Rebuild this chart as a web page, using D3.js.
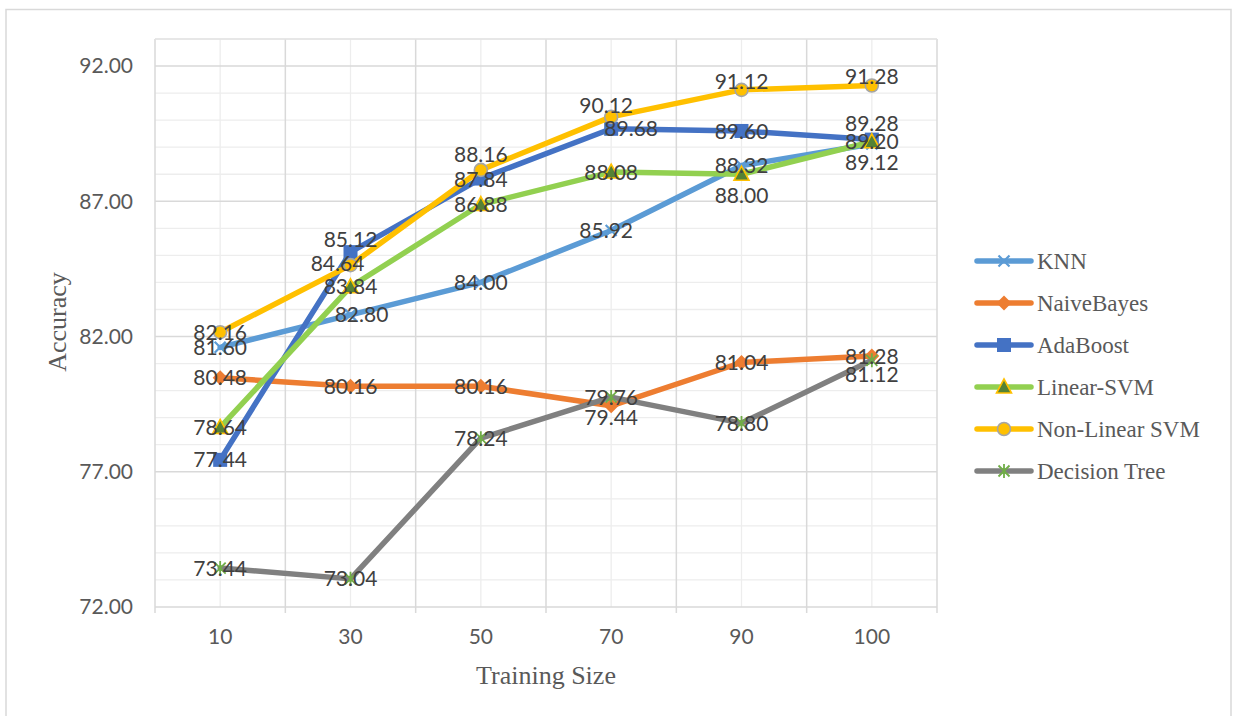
<!DOCTYPE html>
<html>
<head>
<meta charset="utf-8">
<script src="https://cdn.jsdelivr.net/npm/d3@7"></script>
<style>
  html, body { margin: 0; padding: 0; background: #fff; }
  svg { display: block; }
</style>
</head>
<body>
<svg id="chart" width="1233" height="716"></svg>
<script>
// Training sizes on the x axis
const categories = ["10", "30", "50", "70", "90", "100"];

// Accuracy of each classifier per training size
const knn          = [81.60, 82.80, 84.00, 85.92, 88.32, 89.12];
const naiveBayes   = [80.48, 80.16, 80.16, 79.44, 81.04, 81.28];
const adaBoost     = [77.44, 85.12, 87.84, 89.68, 89.60, 89.28];
const linearSvm    = [78.64, 83.84, 86.88, 88.08, 88.00, 89.20];
const nonLinearSvm = [82.16, 84.64, 88.16, 90.12, 91.12, 91.28];
const decisionTree = [73.44, 73.04, 78.24, 79.76, 78.80, 81.12];

const seriesNames = ["KNN", "NaiveBayes", "AdaBoost", "Linear-SVM", "Non-Linear SVM", "Decision Tree"];
const seriesValues = [knn, naiveBayes, adaBoost, linearSvm, nonLinearSvm, decisionTree];

// Labelled y ticks and axis bounds
const yTicks = [72, 77, 82, 87, 92];
const yMin = 72, yMax = 93;

// Appearance of each series
const styles = [
  { line: "#5B9BD5", marker: "x",        fill: "none",    stroke: "#5B9BD5" },
  { line: "#ED7D31", marker: "diamond",  fill: "#ED7D31", stroke: "#ED7D31" },
  { line: "#4472C4", marker: "square",   fill: "#4472C4", stroke: "#4472C4" },
  { line: "#92D050", marker: "triangle", fill: "#548235", stroke: "#FFC000" },
  { line: "#FFC000", marker: "circle",   fill: "#FFC000", stroke: "#A5A5A5" },
  { line: "#808080", marker: "star",     fill: "none",    stroke: "#70AD47" }
];

// Nudges for value labels that would otherwise sit on top of each other
const labelNudges = [
  [[0, 0], [11, 0], [0, 0], [-5, 0], [0, 0], [0, 18]],
  [[0, 0], [0, 0], [0, 0], [0, 12], [0, 0], [0, 0]],
  [[0, 0], [0, -13], [0, 1], [20, 0], [0, 0], [0, -16]],
  [[0, 0], [0, 0], [0, 0], [0, 0], [0, 21], [0, 0]],
  [[0, 0], [-13, -2], [0, -15], [-5, -11], [0, -8], [0, -9]],
  [[0, 0], [0, 0], [0, 0], [0, 0], [0, 0], [0, 14]]
];

const plot = { left: 155, right: 937, top: 39, bottom: 607 };
const svg = d3.select("#chart");

// Outer chart frame
svg.append("rect")
  .attr("x", 6).attr("y", 9.5).attr("width", 1225).attr("height", 720)
  .attr("fill", "#fff").attr("stroke", "#D9D9D9").attr("stroke-width", 1.5);

const x = d3.scaleBand().domain(categories).range([plot.left, plot.right]).padding(0);
const y = d3.scaleLinear().domain([yMin, yMax]).range([plot.bottom, plot.top]);
const cx = c => x(c) + x.bandwidth() / 2;

const grid = svg.append("g");

// Minor horizontal gridlines every unit
d3.range(yMin, yMax + 1).forEach(v => {
  if (yTicks.includes(v)) return;
  grid.append("line")
    .attr("x1", plot.left).attr("x2", plot.right)
    .attr("y1", y(v)).attr("y2", y(v))
    .attr("stroke", "#EDEDED").attr("stroke-width", 1.3);
});
// Minor vertical gridlines at category centres
categories.forEach(c => {
  grid.append("line")
    .attr("x1", cx(c)).attr("x2", cx(c))
    .attr("y1", plot.top).attr("y2", plot.bottom)
    .attr("stroke", "#EDEDED").attr("stroke-width", 1.3);
});
// Major horizontal gridlines
yTicks.forEach(v => {
  grid.append("line")
    .attr("x1", plot.left).attr("x2", plot.right)
    .attr("y1", y(v)).attr("y2", y(v))
    .attr("stroke", "#D9D9D9").attr("stroke-width", 1.5);
});
// Major vertical gridlines at category boundaries, with ticks below the axis
const bounds = categories.map(c => x(c)).concat([x(categories[categories.length - 1]) + x.bandwidth()]);
bounds.forEach(b => {
  grid.append("line")
    .attr("x1", b).attr("x2", b)
    .attr("y1", plot.top).attr("y2", plot.bottom + 6)
    .attr("stroke", "#D9D9D9").attr("stroke-width", 1.5);
});
// Top edge of plot area
grid.append("line")
  .attr("x1", plot.left).attr("x2", plot.right)
  .attr("y1", plot.top).attr("y2", plot.top)
  .attr("stroke", "#E3E3E3").attr("stroke-width", 1.5);

// Y axis labels
const yAxis = svg.append("g")
  .attr("transform", `translate(${plot.left},0)`)
  .call(d3.axisLeft(y).tickValues(yTicks).tickFormat(d3.format(".2f")).tickSize(0).tickPadding(22));
yAxis.select(".domain").remove();
yAxis.selectAll("text")
  .attr("font-family", "Lato, 'Open Sans', sans-serif")
  .attr("font-size", 21).attr("fill", "#595959");

// X axis labels
const xAxis = svg.append("g")
  .attr("transform", `translate(0,${plot.bottom})`)
  .call(d3.axisBottom(x).tickSize(0).tickPadding(22));
xAxis.select(".domain").remove();
xAxis.selectAll("text")
  .attr("font-family", "Lato, 'Open Sans', sans-serif")
  .attr("font-size", 21).attr("fill", "#595959");

// Axis titles
svg.append("text")
  .attr("x", (plot.left + plot.right) / 2).attr("y", 684)
  .attr("text-anchor", "middle")
  .attr("font-family", "'Liberation Serif', 'Times New Roman', serif")
  .attr("font-size", 26).attr("fill", "#595959")
  .text("Training Size");
svg.append("text")
  .attr("transform", "translate(66,322) rotate(-90)")
  .attr("text-anchor", "middle")
  .attr("font-family", "'Liberation Serif', 'Times New Roman', serif")
  .attr("font-size", 26).attr("fill", "#595959")
  .text("Accuracy");

// Marker drawing
function drawMarker(g, st) {
  switch (st.marker) {
    case "x":
      g.append("path").attr("d", "M-5.5,-5.5L5.5,5.5M-5.5,5.5L5.5,-5.5")
        .attr("stroke", st.stroke).attr("stroke-width", 2.2).attr("fill", "none");
      break;
    case "diamond":
      g.append("path").attr("d", "M0,-7.5L7.5,0L0,7.5L-7.5,0Z").attr("fill", st.fill);
      break;
    case "square":
      g.append("rect").attr("x", -7).attr("y", -7).attr("width", 14).attr("height", 14).attr("fill", st.fill);
      break;
    case "triangle":
      g.append("path").attr("d", "M0,-8L7.5,6L-7.5,6Z")
        .attr("fill", st.fill).attr("stroke", st.stroke).attr("stroke-width", 1.6);
      break;
    case "circle":
      g.append("circle").attr("r", 6.5)
        .attr("fill", st.fill).attr("stroke", st.stroke).attr("stroke-width", 1.6);
      break;
    case "star":
      g.append("path").attr("d", "M-5.5,-5.5L5.5,5.5M-5.5,5.5L5.5,-5.5M0,-7L0,7")
        .attr("stroke", st.stroke).attr("stroke-width", 1.8).attr("fill", "none");
      break;
  }
}

const line = d3.line().x((d, i) => cx(categories[i])).y(d => y(d));

// Series lines and markers
seriesValues.forEach((vals, s) => {
  const st = styles[s];
  const g = svg.append("g");
  g.append("path").datum(vals)
    .attr("d", line)
    .attr("fill", "none").attr("stroke", st.line)
    .attr("stroke-width", 5.5).attr("stroke-linejoin", "round").attr("stroke-linecap", "round");
  vals.forEach((v, i) => {
    const m = g.append("g").attr("transform", `translate(${cx(categories[i])},${y(v)})`);
    drawMarker(m, st);
  });
});

// Value labels on top of every line
seriesValues.forEach((vals, s) => {
  svg.append("g").selectAll("text").data(vals).join("text")
    .attr("x", (d, i) => cx(categories[i]) + labelNudges[s][i][0])
    .attr("y", (d, i) => y(d) + labelNudges[s][i][1])
    .attr("dy", "0.36em")
    .attr("text-anchor", "middle")
    .attr("font-family", "Lato, 'Open Sans', sans-serif")
    .attr("font-size", 21).attr("fill", "#404040")
    .text(d => d3.format(".2f")(d));
});

// Legend
const legend = svg.append("g").attr("transform", "translate(977,261)");
seriesNames.forEach((name, s) => {
  const st = styles[s];
  const row = legend.append("g").attr("transform", `translate(0,${s * 42})`);
  row.append("line").attr("x1", 0).attr("x2", 54).attr("y1", 0).attr("y2", 0)
    .attr("stroke", st.line).attr("stroke-width", 5.5).attr("stroke-linecap", "round");
  drawMarker(row.append("g").attr("transform", "translate(27,0)"), st);
  row.append("text").attr("x", 60).attr("y", 0).attr("dy", "0.33em")
    .attr("font-family", "'Liberation Serif', 'Times New Roman', serif")
    .attr("font-size", 23).attr("fill", "#595959")
    .text(name);
});
</script>
</body>
</html>
